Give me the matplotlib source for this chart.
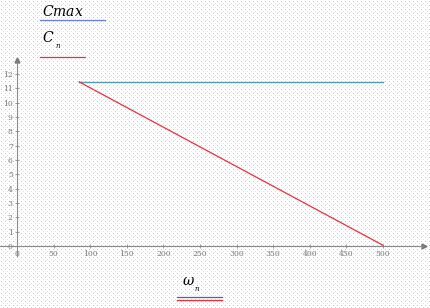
import numpy as np
import matplotlib
matplotlib.use("Agg")
import matplotlib.pyplot as plt

plt.rcParams["mathtext.fontset"] = "dejavuserif"

# data
omega = [85, 500]
c_max = [11.45, 11.45]
c_n = [11.45, 0.05]
x_ticks = list(range(0, 501, 50))
y_ticks = list(range(0, 13))

W, H = 431, 308
fig = plt.figure(figsize=(W / 100, H / 100), dpi=100)

# dotted background
bg = np.ones((H, W, 3))
bg[1::4, 1::4] = [0.78, 0.78, 0.80]
bg[3::4, 3::4] = [0.82, 0.93, 0.84]
fig.figimage(bg, 0, 0, zorder=-5)

ax = fig.add_axes([0, 0, 1, 1], zorder=2)
ax.patch.set_alpha(0)
px_x = 0.732
px_y = 14.33
x0p, y0p = 17, 246
ax.set_xlim(-x0p / px_x, (W - x0p) / px_x)
ax.set_ylim(-(H - y0p) / px_y, y0p / px_y)

for s in ["top", "right"]:
    ax.spines[s].set_visible(False)
ax.spines["left"].set_position(("data", 0))
ax.spines["bottom"].set_position(("data", 0))
ax.spines["left"].set_bounds(-0.7, 12.9)
ax.spines["bottom"].set_bounds(-23, 555)
for s in ["left", "bottom"]:
    ax.spines[s].set_color("#8a8a8a")
    ax.spines[s].set_linewidth(0.8)
ax.plot([0], [12.95], marker="^", color="#777777", markersize=3.5, clip_on=False)
ax.plot([556], [0], marker=">", color="#777777", markersize=3.5, clip_on=False)

ax.set_xticks(x_ticks)
ax.set_yticks(y_ticks)
ax.tick_params(direction="inout", length=3, width=0.6, color="#8a8a8a",
               labelsize=5.5, labelcolor="#777777", pad=1.5)
for lab in ax.get_xticklabels() + ax.get_yticklabels():
    lab.set_family("DejaVu Serif")

ax.plot(omega, c_max, color="#5a9fb5", lw=1.0, zorder=3)
ax.plot(omega, c_n, color="#e8303f", lw=0.9, zorder=4)

# legend-like labels (Mathcad style)
fig.text(42 / W, 1 - 12 / H, r"$Cmax$", fontsize=10, va="center", ha="left")
fig.add_artist(plt.Line2D([40 / W, 105 / W], [1 - 20 / H] * 2, color="#6a80e0", lw=0.9))
fig.text(42 / W, 1 - 37 / H, r"$C$", fontsize=10, va="center", ha="left")
fig.text(55 / W, 1 - 46 / H, r"$n$", fontsize=5, va="center", ha="left")
fig.add_artist(plt.Line2D([40 / W, 85 / W], [1 - 57 / H] * 2, color="#e8303f", lw=0.9))

fig.text(182 / W, 1 - 281 / H, r"$\omega$", fontsize=10, va="center", ha="left")
fig.text(194 / W, 1 - 289 / H, r"$n$", fontsize=5, va="center", ha="left")
fig.add_artist(plt.Line2D([177 / W, 222 / W], [1 - 297 / H] * 2, color="#3a6ab0", lw=0.9))
fig.add_artist(plt.Line2D([177 / W, 222 / W], [1 - 300 / H] * 2, color="#e8303f", lw=0.9))

fig.savefig("out.png", dpi=100)
